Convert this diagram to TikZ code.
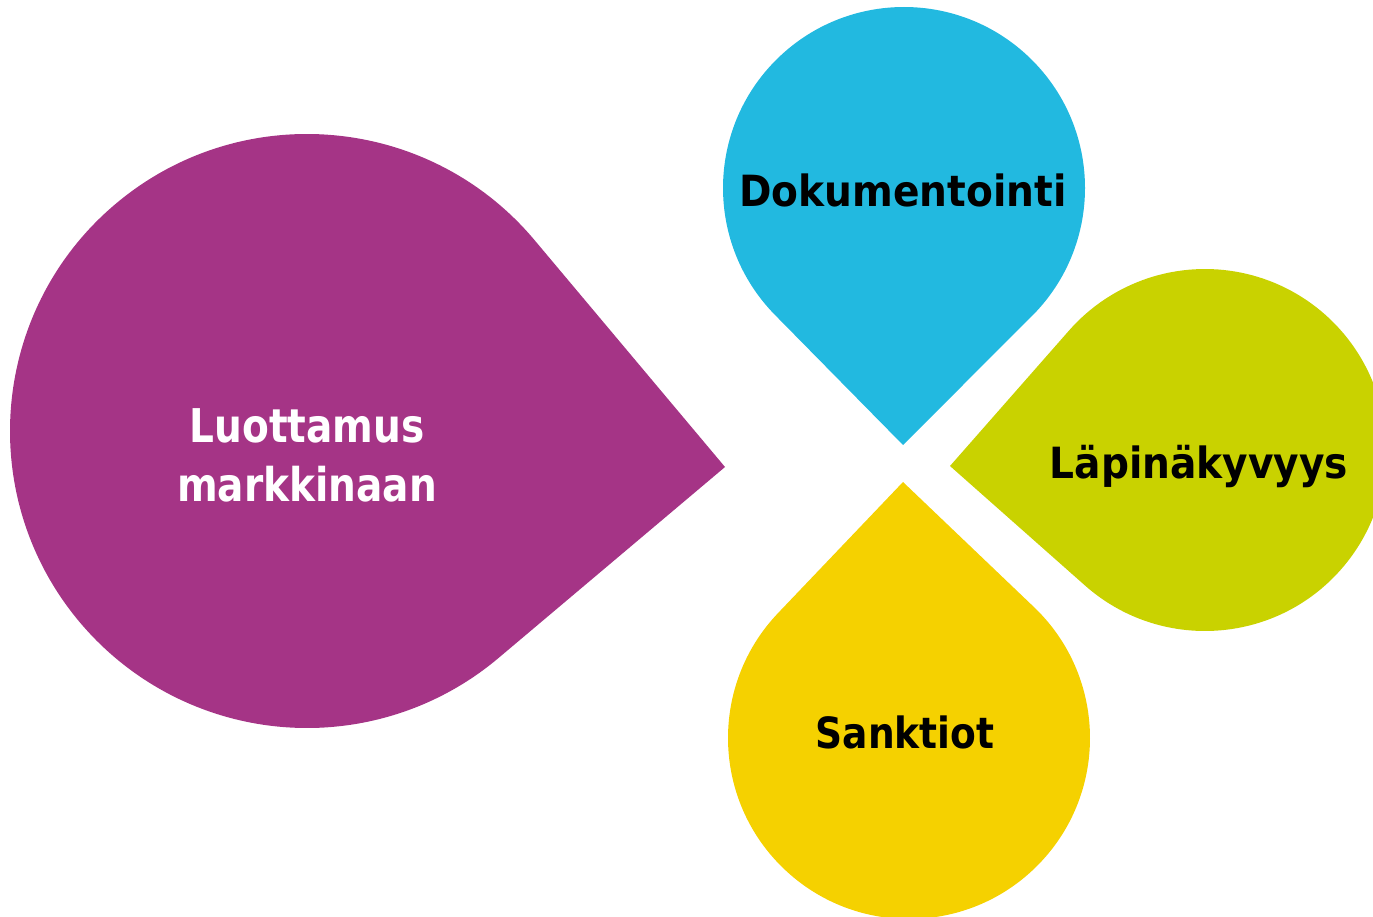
\documentclass[tikz,border=0pt]{standalone}
\usepackage{fontspec}
\setmainfont{DejaVu Sans}
\usetikzlibrary{calc}
\definecolor{cpurple}{RGB}{165,52,134}
\definecolor{cblue}{RGB}{34,185,224}
\definecolor{cgreen}{RGB}{201,210,0}
\definecolor{cyellow}{RGB}{245,209,0}
\newcommand\tdrop[4]{%
  \fill[#4] let \p1=($(#3)-(#1)$), \n1={veclen(\x1,\y1)}, \n2={atan2(\y1,\x1)}, \n3={acos(#2/\n1)} in
    (#3) -- ($(#1)+(\n2+\n3:#2)$) arc[start angle=\n2+\n3, end angle=\n2-\n3+360, radius=#2] -- cycle;}
\tikzset{
  lbl/.style={anchor=base, inner sep=0pt, font=\bfseries\fontsize{43}{50}\selectfont, text=black, xscale=0.91},
  lblw/.style={anchor=base, inner sep=0pt, font=\bfseries\fontsize{46.5}{59}\selectfont, text=white, xscale=0.84}
}
\begin{document}
\begin{tikzpicture}[x=1pt,y=1pt]
\useasboundingbox (0,0) rectangle (1373,-917);
\clip (0,0) rectangle (1373,-917);
% centres and tips
\coordinate (pc) at (307,-431);
\coordinate (pt) at (725,-467);
\coordinate (bc) at (904,-188);
\coordinate (bt) at (903,-445);
\coordinate (gc) at (1205,-450);
\coordinate (gt) at (950,-466);
\coordinate (yc) at (909,-738);
\coordinate (yt) at (903,-482);
\tdrop{pc}{297pt}{pt}{cpurple}
\tdrop{bc}{181pt}{bt}{cblue}
\tdrop{gc}{181pt}{gt}{cgreen}
\tdrop{yc}{181pt}{yt}{cyellow}
\node[lblw] (lum1) at (307,-442) {Luottamus};
\node[lblw] (lum2) at (307,-501) {markkinaan};
\node[lbl] (dok) at (903,-207) {Dokumentointi};
\node[lbl] (lap) at (1199,-478) {Läpinäkyvyys};
\node[lbl, xscale=0.96] (san) at (905,-748) {Sanktiot};
\end{tikzpicture}
\end{document}
